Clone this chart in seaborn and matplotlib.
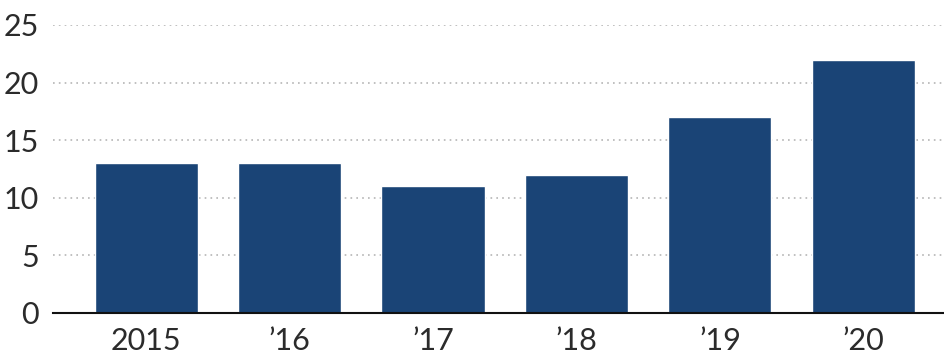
import matplotlib
matplotlib.use("Agg")
import matplotlib.pyplot as plt
import seaborn as sns
import pandas as pd

years = ["2015", "\u201916", "\u201917", "\u201918", "\u201919", "\u201920"]
values = [13, 13, 11, 12, 17, 22]
y_ticks = [0, 5, 10, 15, 20, 25]

sns.set_theme(style="white")
plt.rcParams['font.family'] = ['Lato', 'DejaVu Sans']

df = pd.DataFrame({"year": years, "value": values})

fig = plt.figure(figsize=(9.45, 3.56), dpi=100)
ax = fig.add_axes([53/945, 43/356, 1 - 53/945, (313 - 25)/356])

sns.barplot(data=df, x="year", y="value", color="#1a4476", width=0.72,
            saturation=1, ax=ax, zorder=2)

ax.set_ylim(0, 25)
ax.set_xlim(-0.65, 5.57)
ax.set_yticks(y_ticks)
ax.set_xlabel("")
ax.set_ylabel("")

ax.yaxis.grid(True, linestyle=(0, (1, 2.5)), color="#b5b5b5", linewidth=1.2, zorder=0)
ax.set_axisbelow(True)
for s in ["top", "right", "left"]:
    ax.spines[s].set_visible(False)
ax.spines["bottom"].set_color("#111111")
ax.spines["bottom"].set_linewidth(1.5)
ax.spines["bottom"].set_zorder(3)

ax.tick_params(axis="y", length=0, pad=10, labelsize=22, labelcolor="#2b2b2b")
ax.tick_params(axis="x", direction="inout", length=4, width=3, color="#111111",
               pad=8, labelsize=22, labelcolor="#2b2b2b")

fig.savefig("out.png", dpi=100)
